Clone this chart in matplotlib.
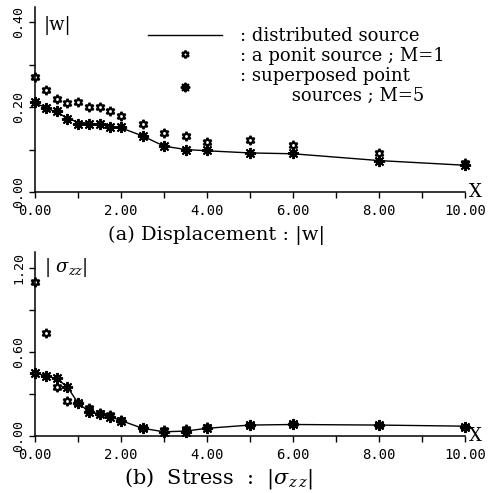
import matplotlib
matplotlib.use('Agg')
import matplotlib.pyplot as plt
from matplotlib.ticker import MultipleLocator

# x positions of the computed points
x = [0, 0.25, 0.5, 0.75, 1.0, 1.25, 1.5, 1.75, 2.0, 2.5, 3.0, 3.5, 4.0, 5.0, 6.0, 8.0, 10.0]

# (a) displacement |w|
w_dist = [0.210, 0.198, 0.188, 0.174, 0.164, 0.162, 0.160, 0.154, 0.151, 0.132, 0.108, 0.100, 0.097, 0.092, 0.090, 0.074, 0.063]
w_m1 = [0.270, 0.239, 0.219, 0.209, 0.211, 0.200, 0.200, 0.190, 0.179, 0.159, 0.139, 0.131, 0.118, 0.122, 0.110, 0.092, 0.069]
w_m5 = [0.211, 0.197, 0.190, 0.171, 0.161, 0.161, 0.161, 0.152, 0.152, 0.132, 0.108, 0.100, 0.098, 0.091, 0.092, 0.073, 0.063]

# (b) stress |sigma_zz|
s_dist = [0.451, 0.427, 0.410, 0.351, 0.235, 0.175, 0.155, 0.137, 0.110, 0.055, 0.030, 0.035, 0.055, 0.078, 0.082, 0.078, 0.070]
s_m1 = [1.094, 0.731, 0.351, 0.249, 0.232, 0.202, 0.166, 0.149, 0.114, 0.055, 0.043, 0.050, 0.066, 0.078, 0.085, 0.078, 0.066]
s_m5 = [0.451, 0.427, 0.410, 0.351, 0.232, 0.168, 0.154, 0.138, 0.109, 0.055, 0.031, 0.031, 0.055, 0.078, 0.085, 0.078, 0.066]

xticks = [0, 2, 4, 6, 8, 10]
xticklabels = ['0.00', '2.00', '4.00', '6.00', '8.00', '10.00']

plt.rcParams['mathtext.fontset'] = 'dejavuserif'
serif = 'DejaVu Serif'
mono = 'DejaVu Sans Mono'
hexa = (6, 1, 0)    # open six-pointed star
aster = (8, 2, 0)   # eight-spoke asterisk

fig = plt.figure(figsize=(4.91, 4.93), dpi=100)
ax1 = fig.add_axes([0.0713, 0.6105, 0.876, 0.375])
ax2 = fig.add_axes([0.0713, 0.1156, 0.876, 0.373])


def style_axis(ax, ymax, ystep, ylabels):
    ax.set_xlim(0, 10)
    ax.set_ylim(0, ymax)
    for s in ['top', 'right']:
        ax.spines[s].set_visible(False)
    ax.spines['left'].set_linewidth(1.1)
    ax.spines['bottom'].set_linewidth(1.1)
    ax.xaxis.set_minor_locator(MultipleLocator(1))
    ax.yaxis.set_minor_locator(MultipleLocator(ystep))
    ax.tick_params(which='both', direction='out', length=4, width=1)
    ax.set_xticks(xticks)
    ax.set_xticklabels(xticklabels, fontfamily=mono, fontsize=10)
    ax.set_yticks(ylabels)
    ax.set_yticklabels(['%.2f' % v for v in ylabels], fontfamily=mono,
                       fontsize=9.5, rotation=90, va='center')
    ax.tick_params(axis='x', pad=4.5)
    ax.tick_params(axis='y', pad=3)
    ax.text(1.008, 0.0, 'X', transform=ax.transAxes, fontfamily=serif,
            fontsize=13, ha='left', va='center')


style_axis(ax1, 0.435, 0.1, [0.0, 0.2, 0.4])
style_axis(ax2, 1.31, 0.3, [0.0, 0.6, 1.2])

l1, = ax1.plot(x, w_dist, color='black', lw=1.0)
m1, = ax1.plot(x, w_m1, ls='none', marker=hexa, ms=6.5, mfc='white',
               mec='black', mew=1.6, clip_on=False)
m5, = ax1.plot(x, w_m5, ls='none', marker=aster, ms=8, mec='black',
               mew=1.4, clip_on=False)

ax2.plot(x, s_dist, color='black', lw=1.0)
ax2.plot(x, s_m1, ls='none', marker=hexa, ms=6.5, mfc='white',
         mec='black', mew=1.6, clip_on=False)
ax2.plot(x, s_m5, ls='none', marker=aster, ms=8, mec='black',
         mew=1.4, clip_on=False)

ax1.text(0.02, 0.90, '|w|', transform=ax1.transAxes, fontfamily=serif,
         fontsize=13, va='center', ha='left')
ax2.text(0.02, 0.915, r'$|\ \sigma_{zz}|$', transform=ax2.transAxes,
         fontsize=13, va='center', ha='left')

leg = ax1.legend([l1, m1, m5],
                 [': distributed source', ': a ponit source ; M=1',
                  ': superposed point\n' + ' ' * 9 + 'sources ; M=5'],
                 loc='upper left', bbox_to_anchor=(0.263, 0.893),
                 frameon=False, borderaxespad=0, borderpad=0,
                 handlelength=4.1, handletextpad=1.0, labelspacing=0.1,
                 markerscale=0.85, prop={'family': serif, 'size': 13})

fig.text(0.44, 0.522, '(a) Displacement : |w|', fontfamily=serif,
         fontsize=14, ha='center', va='center')
fig.text(0.444, 0.03, r'(b)  Stress  :  $|\sigma_{z\,z}|$', fontfamily=serif,
         fontsize=15, ha='center', va='center')

fig.savefig('out.png', dpi=100)
